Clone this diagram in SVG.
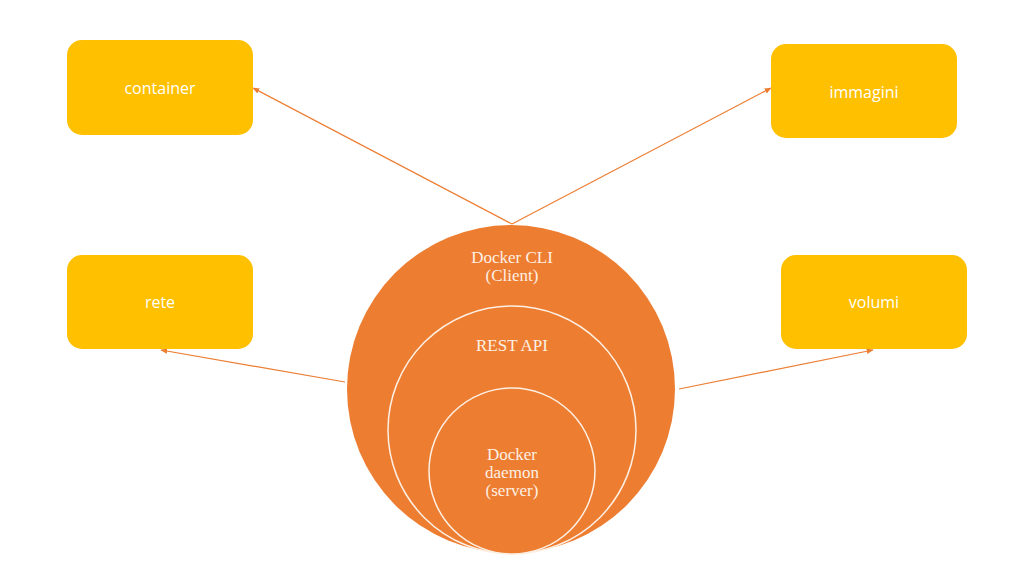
<svg xmlns="http://www.w3.org/2000/svg" width="1024" height="576" viewBox="0 0 1024 576">
<defs>
<style>
.box{fill:#FFC000;}
.btxt{font-family:"Open Sans","Liberation Sans",sans-serif;font-size:16px;fill:#FFFFFF;text-anchor:middle;}
.ctxt{font-family:"Liberation Serif",serif;font-size:17px;fill:#FDF0E4;text-anchor:middle;}
.circ{fill:#ED7D31;stroke:#FDF0E4;stroke-width:1.5;}
.conn{stroke:#ED7D31;stroke-width:1.2;fill:none;marker-end:url(#ah);}
</style>
<marker id="ah" viewBox="0 0 10 10" refX="9" refY="5" markerWidth="7" markerHeight="7" orient="auto" markerUnits="userSpaceOnUse">
<path d="M0,1 L10,5 L0,9 z" fill="#ED7D31"/>
</marker>
</defs>
<rect width="1024" height="576" fill="#FFFFFF"/>
<g id="connectors">
<line class="conn" x1="512" y1="224" x2="253" y2="88"/>
<line class="conn" x1="512" y1="224" x2="771" y2="88"/>
<line class="conn" x1="345" y1="382" x2="161" y2="350"/>
<line class="conn" x1="679" y1="389" x2="873" y2="350"/>
</g>
<g id="container">
<rect class="box" x="67" y="40" width="186" height="95" rx="15"/>
<text class="btxt" x="160" y="94">container</text>
</g>
<g id="immagini">
<rect class="box" x="771" y="44" width="186" height="94" rx="15"/>
<text class="btxt" x="864" y="98">immagini</text>
</g>
<g id="rete">
<rect class="box" x="67" y="255" width="186" height="94" rx="15"/>
<text class="btxt" x="160" y="308">rete</text>
</g>
<g id="volumi">
<rect class="box" x="781" y="255" width="186" height="94" rx="15"/>
<text class="btxt" x="874" y="308">volumi</text>
</g>
<g id="docker-cli">
<circle cx="511" cy="389" r="164" fill="#ED7D31"/>
<text class="ctxt" x="512" y="263">Docker CLI</text>
<text class="ctxt" x="512" y="281">(Client)</text>
</g>
<g id="rest-api">
<circle class="circ" cx="512" cy="430" r="124"/>
<text class="ctxt" x="512" y="351">REST API</text>
</g>
<g id="docker-daemon">
<circle class="circ" cx="512" cy="471" r="83"/>
<text class="ctxt" x="512" y="460">Docker</text>
<text class="ctxt" x="512" y="478">daemon</text>
<text class="ctxt" x="512" y="496">(server)</text>
</g>
</svg>
